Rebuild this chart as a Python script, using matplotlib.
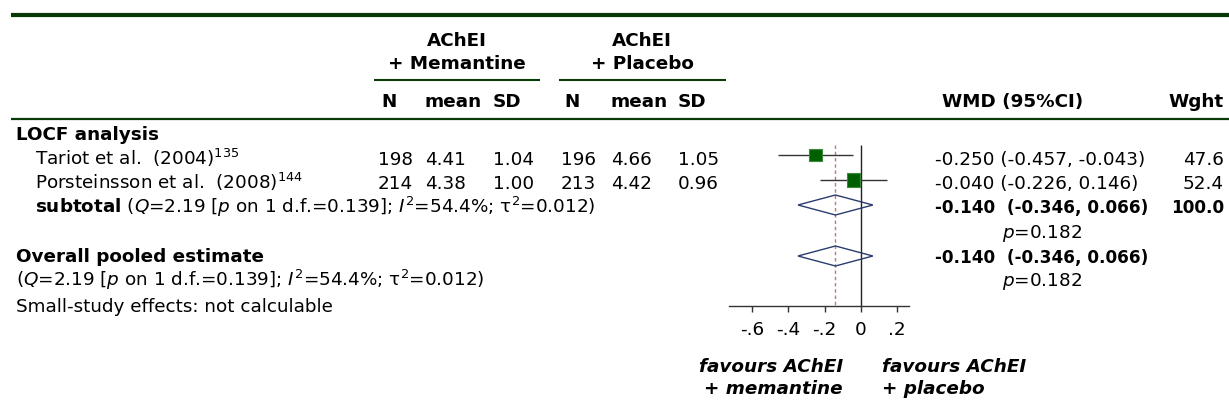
import matplotlib
matplotlib.use("Agg")
import matplotlib.pyplot as plt
import numpy as np

# study level data
studies = ["Tariot et al.  (2004)$^{135}$", "Porsteinsson et al.  (2008)$^{144}$"]
n_mem = [198, 214]
mean_mem = [4.41, 4.38]
sd_mem = [1.04, 1.00]
n_pla = [196, 213]
mean_pla = [4.66, 4.42]
sd_pla = [1.05, 0.96]
wmd = [-0.250, -0.040]
ci_lo = [-0.457, -0.226]
ci_hi = [-0.043, 0.146]
weights = [47.6, 52.4]

# pooled
pooled = -0.140
pooled_lo = -0.346
pooled_hi = 0.066
pooled_p = 0.182
het_text = r"($\mathit{Q}$=2.19 [$\mathit{p}$ on 1 d.f.=0.139]; $\mathit{I}^{2}$=54.4%; τ$^{2}$=0.012)"

ticks = [-0.6, -0.4, -0.2, 0, 0.2]
tick_labels = ["-.6", "-.4", "-.2", "0", ".2"]

W, H = 1229, 412
FS = 13.2
green = "#073a07"

fig = plt.figure(figsize=(W / 100, H / 100), dpi=100)

# text layer in pixel coordinates
tx = fig.add_axes([0, 0, 1, 1])
tx.set_xlim(0, W)
tx.set_ylim(H, 0)
tx.axis("off")

def put(x, y, s, ha="left", weight="normal", style="normal", size=FS):
    # y is row centre in pixels, draw on baseline
    tx.text(x, y + 6.5, s, ha=ha, va="baseline", fontsize=size,
            fontweight=weight, fontstyle=style)

# rules
tx.plot([11, W], [15, 15], color=green, lw=3.0, solid_capstyle="butt")
tx.plot([11, W], [119, 119], color=green, lw=1.6, solid_capstyle="butt")
tx.plot([374, 540], [80, 80], color=green, lw=1.5, solid_capstyle="butt")
tx.plot([559, 726], [80, 80], color=green, lw=1.5, solid_capstyle="butt")

# headers
put(457, 39, "AChEI", ha="center", weight="bold")
put(457, 62, "+ Memantine", ha="center", weight="bold")
put(642, 39, "AChEI", ha="center", weight="bold")
put(642, 62, "+ Placebo", ha="center", weight="bold")
for xn, xm, xs in [(381, 425, 493), (564, 611, 678)]:
    put(xn, 100, "N", weight="bold")
    put(xm, 100, "mean", weight="bold")
    put(xs, 100, "SD", weight="bold")
put(942, 100, "WMD (95%CI)", weight="bold")
put(1224, 100, "Wght", ha="right", weight="bold")

# rows
row_y = [158, 182]
put(16, 134, "LOCF analysis", weight="bold")
for i, name in enumerate(studies):
    y = row_y[i]
    put(35, y, name)
    put(413, y, f"{n_mem[i]}", ha="right")
    put(425, y, f"{mean_mem[i]:.2f}")
    put(493, y, f"{sd_mem[i]:.2f}")
    put(596, y, f"{n_pla[i]}", ha="right")
    put(611, y, f"{mean_pla[i]:.2f}")
    put(678, y, f"{sd_pla[i]:.2f}")
    put(935, y, f"{wmd[i]:.3f} ({ci_lo[i]:.3f}, {ci_hi[i]:.3f})")
    put(1224, y, f"{weights[i]:.1f}", ha="right")

pooled_str = f"{pooled:.3f}  ({pooled_lo:.3f}, {pooled_hi:.3f})"
sub_y = 206
put(35, sub_y, r"$\mathbf{subtotal}$ " + het_text)
put(935, sub_y, pooled_str, weight="bold", size=12.2)
put(1224, sub_y, f"{sum(weights):.1f}", ha="right", weight="bold", size=12.2)
put(1002, 231, r"$\mathit{p}$=" + f"{pooled_p:.3f}")

ov_y = 256
put(16, ov_y, "Overall pooled estimate", weight="bold")
put(935, ov_y, pooled_str, weight="bold", size=12.2)
put(16, 280, het_text)
put(1002, 280, r"$\mathit{p}$=" + f"{pooled_p:.3f}")
put(16, 305, "Small-study effects: not calculable")

put(843, 365, "favours AChEI", ha="right", weight="bold", style="italic")
put(843, 388, "+ memantine", ha="right", weight="bold", style="italic")
put(882, 365, "favours AChEI", weight="bold", style="italic")
put(882, 388, "+ placebo", weight="bold", style="italic")

# forest plot
ax = fig.add_axes([729 / W, 0, (909 - 729) / W, 1])
ax.patch.set_alpha(0)
ax.set_xlim(-0.726, 0.265)
ax.set_ylim(H, 0)
for s in ["top", "left", "right"]:
    ax.spines[s].set_visible(False)
ax.spines["bottom"].set_position(("data", 306))
ax.spines["bottom"].set_color("#333333")
ax.spines["bottom"].set_linewidth(1.0)
ax.set_yticks([])
ax.set_xticks(ticks)
ax.set_xticklabels(tick_labels, fontsize=FS)
ax.tick_params(axis="x", direction="out", length=4.5, width=1.0,
               color="#333333", pad=6)

ax.vlines(0, 145, 306, color="#222222", lw=1.0, zorder=2)
ax.vlines(pooled, 145, 306, color="#c07878", lw=1.0, linestyles=(0, (2.5, 2)), zorder=1)

sq_y = [155, 180]
ax.hlines(sq_y, ci_lo, ci_hi, color="#333333", lw=1.0, zorder=3)
ax.scatter(wmd, sq_y, s=np.array(weights) * 1.8, marker="s",
           facecolor="#006000", edgecolor="#3d8a3d", linewidth=0.8, zorder=4)

for yc in [sub_y - 1, ov_y]:
    ax.fill([pooled_lo, pooled, pooled_hi, pooled], [yc, yc - 10, yc, yc + 10],
            facecolor="none", edgecolor="#2a3d6e", lw=1.0, zorder=5)

fig.savefig("out.png", dpi=100)
